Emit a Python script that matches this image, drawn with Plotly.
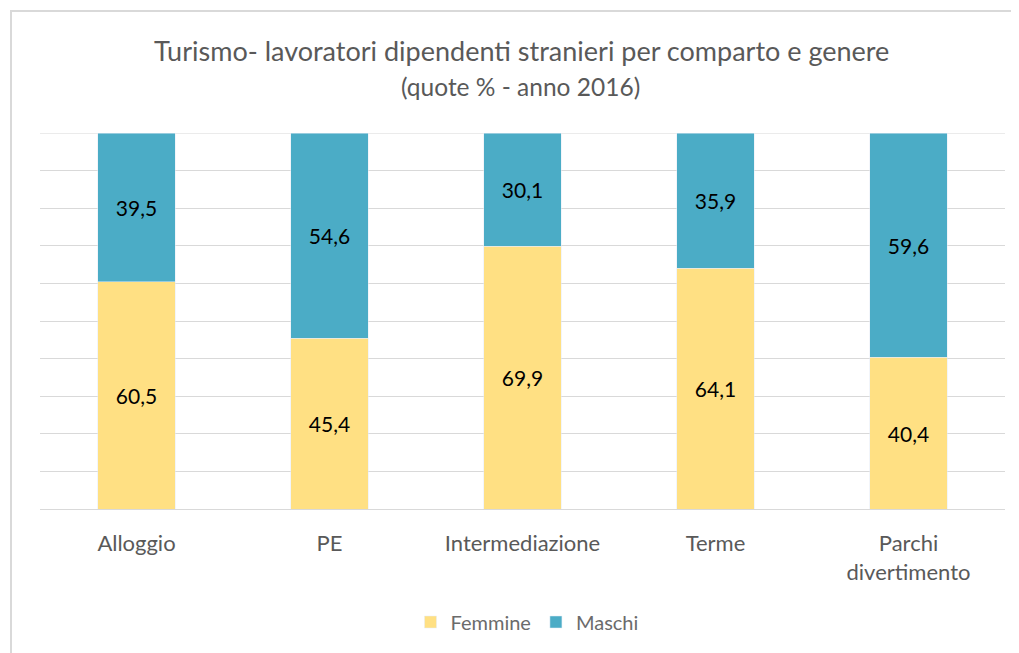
import plotly.graph_objects as go

categories = ["Alloggio", "PE", "Intermediazione", "Terme", "Parchi<br>divertimento"]
femmine = [60.5, 45.4, 69.9, 64.1, 40.4]
maschi = [39.5, 54.6, 30.1, 35.9, 59.6]

FONT = "Lato"
OFF = 8  # page body margin
W, H = 1019 - OFF, 653 - OFF
PL, PR, PT, PB = 40 - OFF, 1005 - OFF, 133 - OFF, 509 - OFF
PW, PH = PR - PL, PB - PT

def px_x(x):
    return (x - OFF - PL) / PW

def px_y(y):
    return (PB - (y - OFF)) / PH

fig = go.Figure()
fig.add_trace(go.Bar(
    x=categories, y=femmine, name="Femmine", marker_color="#FFE083",
    texttemplate="%{y:.1f}", textposition="inside", insidetextanchor="middle",
    textfont=dict(color="#000000", size=21, family=FONT),
))
fig.add_trace(go.Bar(
    x=categories, y=maschi, name="Maschi", marker_color="#4BACC6",
    texttemplate="%{y:.1f}", textposition="inside", insidetextanchor="middle",
    textfont=dict(color="#000000", size=21, family=FONT),
))

fig.update_layout(
    barmode="stack", bargap=0.6, separators=",.",
    width=W, height=H,
    margin=dict(l=PL, r=W - PR, t=PT, b=H - PB),
    paper_bgcolor="white", plot_bgcolor="white",
    font=dict(family=FONT, color="#595959"),
    showlegend=True,
    legend=dict(orientation="h", x=px_x(527), xanchor="center", y=px_y(622), yanchor="middle",
                font=dict(size=20, color="#6b6b6b", family=FONT), traceorder="normal",
                itemwidth=30),
    xaxis=dict(showgrid=False, showline=True, linecolor="#D9D9D9", linewidth=1,
               tickfont=dict(size=22, color="#595959", family=FONT), ticks="",
               ticklabelstandoff=15),
    yaxis=dict(range=[0, 100.01], dtick=10, showgrid=True, gridcolor="#D9D9D9", gridwidth=1,
               showticklabels=False, zeroline=False, showline=False),
    annotations=[
        dict(text="Turismo- lavoratori dipendenti stranieri per comparto e genere",
             xref="paper", yref="paper", x=px_x(521), y=px_y(50), xanchor="center", yanchor="middle",
             showarrow=False, font=dict(size=27, color="#595959", family=FONT)),
        dict(text="(quote % - anno 2016)",
             xref="paper", yref="paper", x=px_x(520), y=px_y(86), xanchor="center", yanchor="middle",
             showarrow=False, font=dict(size=24.5, color="#595959", family=FONT)),
    ],
    shapes=[
        dict(type="line", xref="paper", yref="paper",
             x0=px_x(10), x1=px_x(1030), y0=px_y(11), y1=px_y(11),
             line=dict(color="#D9D9D9", width=2), layer="below"),
        dict(type="line", xref="paper", yref="paper",
             x0=px_x(11), x1=px_x(11), y0=px_y(10), y1=px_y(670),
             line=dict(color="#D9D9D9", width=2), layer="below"),
        dict(type="line", xref="paper", yref="y", x0=0, x1=1, y0=100, y1=100,
             line=dict(color="#D9D9D9", width=1), layer="below"),
    ],
)

fig.write_html("out.html")
